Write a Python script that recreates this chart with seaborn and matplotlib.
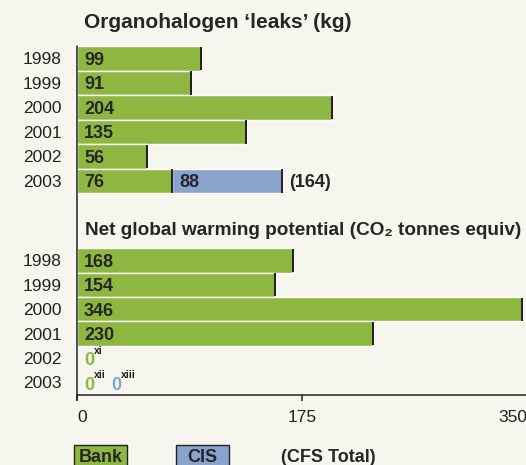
import seaborn as sns
import matplotlib.pyplot as plt
import matplotlib.transforms as mtransforms
from matplotlib.lines import Line2D
from matplotlib.patches import Rectangle
import pandas as pd

# Data
years = ['1998', '1999', '2000', '2001', '2002', '2003']
leaks_bank = [99, 91, 204, 135, 56, 76]
leaks_cis = [0, 0, 0, 0, 0, 88]
gwp_bank = [168, 154, 346, 230, 0, 0]
gwp_cis = [0, 0, 0, 0, 0, 0]
gwp_notes = {'2002': [('bank', 'xi')], '2003': [('bank', 'xii'), ('cis', 'xiii')]}
x_ticks = [0, 175, 350]

GREEN = '#8eb741'
BLUE = '#88a3cc'
BG = '#f6f5ee'
DARK = '#222222'

sns.set_style('white')
plt.rcParams['font.family'] = ['Liberation Sans', 'DejaVu Sans']

W, H = 526, 465
fig = plt.figure(figsize=(W / 100, H / 100), dpi=100, facecolor=BG)


def px_axes(left, top, right, bottom):
    return fig.add_axes([left / W, 1 - bottom / H, (right - left) / W, (bottom - top) / H])


def fy(y):
    return 1 - y / H


def draw_panel(ax, bank, cis):
    df = pd.DataFrame({'year': years, 'bank': bank,
                       'total': [b + c for b, c in zip(bank, cis)]})
    sns.barplot(data=df, x='total', y='year', orient='h', color=BLUE, saturation=1,
                width=1, edgecolor='white', linewidth=1, ax=ax)
    sns.barplot(data=df, x='bank', y='year', orient='h', color=GREEN, saturation=1,
                width=1, edgecolor='white', linewidth=1, ax=ax)
    for p in list(ax.patches):
        if p.get_width() > 0:
            xe = p.get_x() + p.get_width()
            ax.plot([xe, xe], [p.get_y() + 0.03, p.get_y() + p.get_height() - 0.03],
                    color=DARK, lw=1.4, solid_capstyle='butt')
    ax.set_ylim(len(years) - 0.5, -0.5)
    ax.set_facecolor(BG)
    ax.set_xlabel('')
    ax.set_ylabel('')
    for s in ax.spines.values():
        s.set_visible(False)
    ax.tick_params(axis='y', length=0, pad=11, labelsize=12.5, labelcolor='#222')
    # value labels
    for i, (b, c) in enumerate(zip(bank, cis)):
        if b > 0:
            ax.annotate(str(b), (0, i), xytext=(7, 0), textcoords='offset pixels',
                        va='center_baseline', ha='left', fontsize=13, fontweight='bold')
        if c > 0:
            ax.annotate(str(c), (b, i), xytext=(7, 0), textcoords='offset pixels',
                        va='center_baseline', ha='left', fontsize=13, fontweight='bold')
            ax.annotate('(%d)' % (b + c), (b + c, i), xytext=(7, 0),
                        textcoords='offset pixels', va='center_baseline', ha='left',
                        fontsize=13, fontweight='bold')


# top panel: organohalogen leaks
ax1 = px_axes(77, 46.25, 526, 193.25)
draw_panel(ax1, leaks_bank, leaks_cis)
ax1.set_xlim(0, 449 / 1.25)
ax1.set_xticks([])

# bottom panel: net global warming potential
ax2 = px_axes(77, 248.25, 527, 394.5)
draw_panel(ax2, gwp_bank, gwp_cis)
ax2.set_xlim(0, 350)
ax2.spines['bottom'].set_visible(True)
ax2.spines['bottom'].set_color(DARK)
ax2.spines['bottom'].set_linewidth(1.1)
ax2.set_xticks(x_ticks)
ax2.set_xticklabels([str(t) for t in x_ticks])
ax2.tick_params(axis='x', bottom=True, length=4.5, width=1.1, color=DARK,
                direction='out', pad=7, labelsize=12.5, labelcolor='#222')
xt = ax2.get_xticklabels()
xt[0].set_ha('left')
xt[-1].set_ha('right')

# zero-value entries with footnote markers
for i, y in enumerate(years):
    for kind, note in gwp_notes.get(y, []):
        off = 7 if kind == 'bank' else 34
        col = GREEN if kind == 'bank' else BLUE
        ax2.annotate('0', (0, i), xytext=(off, -1), textcoords='offset pixels',
                     va='center_baseline', ha='left', fontsize=13, fontweight='bold',
                     color=col)
        ax2.annotate(note, (0, i), xytext=(off + 10, 2), textcoords='offset pixels',
                     va='bottom', ha='left', fontsize=7.5, fontweight='bold', color=DARK)

# continuous vertical axis line through both panels
trans = mtransforms.blended_transform_factory(ax2.transAxes, fig.transFigure)
fig.add_artist(Line2D([0, 0], [fy(46.5), fy(400)], transform=trans, color=DARK, lw=1.1))

# titles
fig.text(84 / W, fy(22), 'Organohalogen \u2018leaks\u2019 (kg)', fontsize=15,
         fontweight='bold', va='center', ha='left')
fig.text(85 / W, fy(230), 'Net global warming potential (CO\u2082 tonnes equiv)',
         fontsize=13.7, fontweight='bold', va='center', ha='left')

# legend
for (x0, w, col, label) in [(74, 53, GREEN, 'Bank'), (176, 53, BLUE, 'CIS')]:
    fig.add_artist(Rectangle((x0 / W, fy(475)), w / W, 30 / H, transform=fig.transFigure,
                             facecolor=col, edgecolor=DARK, lw=1))
    fig.text((x0 + w / 2) / W, fy(462), label, fontsize=13, fontweight='bold',
             ha='center', va='baseline')
fig.text(281 / W, fy(462), '(CFS Total)', fontsize=13, fontweight='bold',
         ha='left', va='baseline')

fig.savefig('out.png', dpi=100, facecolor=BG)
